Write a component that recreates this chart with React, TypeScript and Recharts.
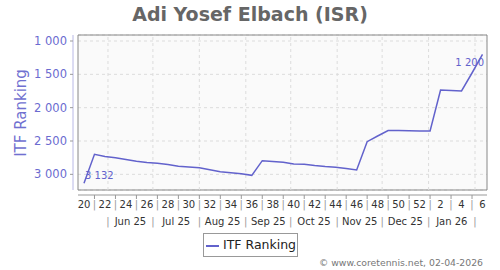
import React from "react";
import {
  LineChart,
  Line,
  XAxis,
  YAxis,
  CartesianGrid,
  ReferenceLine,
  ReferenceArea,
} from "recharts";

// ISO week numbers, one ranking per week (May 2025 -> Feb 2026)
const weeks = [
  20, 21, 22, 23, 24, 25, 26, 27, 28, 29, 30, 31, 32, 33, 34, 35, 36, 37, 38, 39,
  40, 41, 42, 43, 44, 45, 46, 47, 48, 49, 50, 51, 52, 1, 2, 3, 4, 5, 6,
];
const ranking = [
  3132, 2700, 2732, 2750, 2779, 2805, 2824, 2835, 2852, 2880, 2890, 2902, 2932,
  2960, 2975, 2992, 3015, 2795, 2808, 2820, 2845, 2848, 2868, 2884, 2895, 2912,
  2935, 2510, 2425, 2343, 2343, 2347, 2350, 2350, 1735, 1742, 1750, 1480, 1200,
];
const yTicks = [1000, 1500, 2000, 2500, 3000];
const monthStarts = [
  "2025-06-01", "2025-07-01", "2025-08-01", "2025-09-01", "2025-10-01",
  "2025-11-01", "2025-12-01", "2026-01-01", "2026-02-01",
];
const monthLabels = ["Jun 25", "Jul 25", "Aug 25", "Sep 25", "Oct 25", "Nov 25", "Dec 25", "Jan 26"];
const firstPoint = "2025-05-16";
const axisStart = "2025-05-12";
const axisEnd = "2026-02-09";

const FONT = "'DejaVu Sans', sans-serif";
const BLUE = "#6262cc";

const weekOf = (d: string) => (Date.parse(d) - Date.parse(firstPoint)) / (7 * 86400000);

const data = ranking.map((r, i) => ({ x: i, rank: r }));
const monthBounds = monthStarts.map(weekOf);
const monthMids = monthLabels.map((_, i) => (monthBounds[i] + monthBounds[i + 1]) / 2);
const xDomain = [weekOf(axisStart), weekOf(axisEnd)];

const fmt = (v: number) => String(v).replace(/\B(?=(\d{3})+(?!\d))/g, " ");

function WeekTick({ x, y, payload }: any) {
  const i = Math.round(payload.value);
  if (i % 2 === 1) {
    return (
      <g>
        <line x1={x} x2={x} y1={y + 5} y2={y + 9} stroke="#999" />
        <text x={x} y={y + 18.3} textAnchor="middle" fontSize={10} fill="#999">|</text>
      </g>
    );
  }
  return (
    <text x={x} y={y + 18.3} textAnchor="middle" fontSize={10} fill="#333">
      {weeks[i]}
    </text>
  );
}

function MonthTick({ x, y, payload }: any) {
  const mi = monthMids.findIndex((m) => Math.abs(m - payload.value) < 1e-6);
  if (mi >= 0) {
    return (
      <text x={x} y={y + 15} textAnchor="middle" fontSize={10} fill="#333">
        {monthLabels[mi]}
      </text>
    );
  }
  return (
    <text x={x} y={y + 15} textAnchor="middle" fontSize={10} fill="#999">|</text>
  );
}

function PointLabel({ x, y, index }: any) {
  if (index === 0) {
    return (
      <text x={x + 1} y={y - 4.5} fontSize={10} fill={BLUE}>{fmt(ranking[0])}</text>
    );
  }
  if (index === ranking.length - 1) {
    return (
      <text x={x + 1.5} y={y + 12} fontSize={10} fill={BLUE} textAnchor="end">
        {fmt(ranking[index])}
      </text>
    );
  }
  return null;
}

export default function App() {
  return (
    <div style={{ position: "absolute", left: 0, top: 0, width: 500, height: 270, fontFamily: FONT, background: "#fff" }}>
      <div
        style={{
          position: "absolute", left: 0, top: 3, width: 500, textAlign: "center",
          fontSize: 19, lineHeight: "22px", fontWeight: "bold", color: "#666",
        }}
      >
        Adi Yosef Elbach (ISR)
      </div>
      <div
        style={{
          position: "absolute", left: 21, top: 113, transform: "translate(-50%, -50%) rotate(-90deg)",
          fontSize: 15, color: "#7070d0", whiteSpace: "nowrap",
        }}
      >
        ITF Ranking
      </div>
      <LineChart
        width={500}
        height={270}
        data={data}
        margin={{ top: 35, right: 13, bottom: 40, left: 0 }}
        style={{ position: "absolute", left: 0, top: 0 }}
      >
        <CartesianGrid vertical={false} stroke="#dcdcdc" strokeDasharray="3 3" fill="#fafafa" />
        {monthBounds.map((m) => (
          <ReferenceLine key={m} x={m} stroke="#dcdcdc" strokeDasharray="3 3" />
        ))}
        <ReferenceArea
          x1={xDomain[0]} x2={xDomain[1]} y1={910} y2={3235}
          fill="none" stroke="#888" strokeWidth={1}
        />
        <XAxis
          dataKey="x"
          type="number"
          domain={xDomain}
          ticks={weeks.map((_, i) => i)}
          interval={0}
          height={20}
          tickSize={0}
          tickMargin={0}
          tickLine={false}
          axisLine={{ stroke: "#999", transform: "translate(0,5)" }}
          tick={(p: any) => <WeekTick {...p} />}
        />
        <XAxis
          xAxisId="m"
          dataKey="x"
          type="number"
          domain={xDomain}
          ticks={[...monthBounds, ...monthMids].sort((a, b) => a - b)}
          interval={0}
          height={20}
          tickSize={0}
          tickMargin={0}
          tickLine={false}
          axisLine={false}
          tick={(p: any) => <MonthTick {...p} />}
        />
        <YAxis
          type="number"
          reversed
          domain={[910, 3235]}
          ticks={yTicks}
          interval={0}
          width={78}
          tickSize={3}
          tickMargin={8}
          tickFormatter={fmt}
          tick={{ fontSize: 11.5, fill: "#6b6bd0" }}
          axisLine={{ stroke: "#b8b8e6", transform: "translate(-5,0)" }}
          tickLine={{ stroke: "#999", transform: "translate(-5,0)" }}
        />
        <Line
          type="linear"
          dataKey="rank"
          stroke={BLUE}
          strokeWidth={1.5}
          dot={false}
          isAnimationActive={false}
          label={(p: any) => <PointLabel {...p} />}
        />
      </LineChart>
      <div
        style={{
          position: "absolute", left: 203, top: 233, width: 93, height: 22,
          border: "1px solid #999", background: "#fff",
        }}
      >
        <div style={{ position: "absolute", left: 2, top: 11, width: 13, height: 2, background: BLUE }} />
        <div style={{ position: "absolute", left: 19, top: 2, fontSize: 12.5, lineHeight: "18px", color: "#222" }}>
          ITF Ranking
        </div>
      </div>
      <div
        style={{
          position: "absolute", right: 17, top: 257, fontSize: 9.3, lineHeight: "12px",
          color: "#777", whiteSpace: "nowrap",
        }}
      >
        © www.coretennis.net, 02-04-2026
      </div>
    </div>
  );
}
